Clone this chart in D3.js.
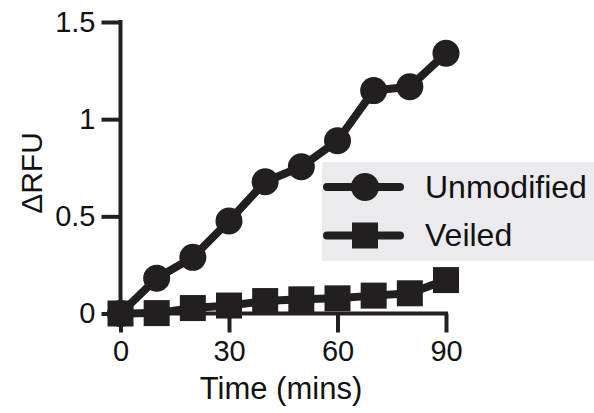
<!DOCTYPE html>
<html>
<head>
<meta charset="utf-8">
<script src="https://cdn.jsdelivr.net/npm/d3@7"></script>
<style>
  html, body { margin: 0; padding: 0; background: #fff; }
  svg { display: block; font-family: "Liberation Sans", Arial, sans-serif; }
</style>
</head>
<body>
<svg id="chart" width="594" height="413"></svg>
<script>
// Data
const times = [0, 10, 20, 30, 40, 50, 60, 70, 80, 90];
const unmodified = [0, 0.181, 0.289, 0.476, 0.678, 0.755, 0.889, 1.147, 1.167, 1.339];
const veiled = [0, 0.002, 0.028, 0.041, 0.064, 0.073, 0.078, 0.092, 0.104, 0.172];
const xTicks = [0, 30, 60, 90];
const yTicks = [0, 0.5, 1, 1.5];
const yTickLabels = ["0", "0.5", "1", "1.5"];
const seriesNames = ["Unmodified", "Veiled"];

const ink = "#231f20";
const svg = d3.select("#chart");

const x = d3.scaleLinear().domain([0, 90]).range([120.5, 446]);
const y = d3.scaleLinear().domain([0, 1.5]).range([313.5, 22]);

// Axes
const xAxis = d3.axisBottom(x).tickValues(xTicks).tickSize(19).tickPadding(8).tickSizeOuter(0);
const yAxis = d3.axisLeft(y).tickValues(yTicks).tickSize(19).tickPadding(6).tickSizeOuter(0)
  .tickFormat((d, i) => yTickLabels[i]);

const gx = svg.append("g").attr("transform", `translate(0,${y(0)})`).call(xAxis);
const gy = svg.append("g").attr("transform", `translate(${x(0)},0)`).call(yAxis);

[gx, gy].forEach(g => {
  g.select(".domain").attr("stroke", ink).attr("stroke-width", 4);
  g.selectAll(".tick line").attr("stroke", ink).attr("stroke-width", 4);
  g.selectAll(".tick text").attr("fill", "#111").attr("font-size", 29)
    .attr("font-family", "'Liberation Sans', Arial, sans-serif");
});
gx.select(".domain").attr("d", `M${x(0) - 2},0H${x(90) + 2}`);
gy.select(".domain").attr("d", `M0,${y(1.5) - 2}V${y(0) + 2}`);
gx.selectAll(".tick text").attr("dy", "0.71em");

// Axis titles
svg.append("text")
  .attr("x", 281).attr("y", 399)
  .attr("text-anchor", "middle")
  .attr("font-size", 31).attr("fill", "#111")
  .text("Time (mins)");

svg.append("text")
  .attr("transform", `translate(42,173) rotate(-90)`)
  .attr("text-anchor", "middle")
  .attr("font-size", 30).attr("fill", "#111")
  .text("ΔRFU");

// Lines
const line = d3.line().x((d, i) => x(times[i])).y(d => y(d));

svg.append("path").datum(veiled)
  .attr("d", line).attr("fill", "none").attr("stroke", ink)
  .attr("stroke-width", 8).attr("stroke-linejoin", "round");
svg.append("path").datum(unmodified)
  .attr("d", line).attr("fill", "none").attr("stroke", ink)
  .attr("stroke-width", 8).attr("stroke-linejoin", "round");

const sq = 26;
svg.append("g").selectAll("rect").data(veiled).join("rect")
  .attr("x", (d, i) => x(times[i]) - sq / 2)
  .attr("y", d => y(d) - sq / 2)
  .attr("width", sq).attr("height", sq)
  .attr("fill", ink);

svg.append("g").selectAll("circle").data(unmodified).join("circle")
  .attr("cx", (d, i) => x(times[i]))
  .attr("cy", d => y(d))
  .attr("r", 13.5)
  .attr("fill", ink);

// Legend
const lg = svg.append("g");
lg.append("rect").attr("x", 322).attr("y", 162).attr("width", 280).attr("height", 99)
  .attr("fill", "#ebebef");

const rows = [{ name: seriesNames[0], cy: 187, bl: 198 }, { name: seriesNames[1], cy: 235.5, bl: 245.5 }];
rows.forEach((r, i) => {
  lg.append("line").attr("x1", 327).attr("x2", 400).attr("y1", r.cy).attr("y2", r.cy)
    .attr("stroke", ink).attr("stroke-width", 8).attr("stroke-linecap", "round");
  if (i === 0) {
    lg.append("circle").attr("cx", 365).attr("cy", r.cy).attr("r", 14).attr("fill", ink);
  } else {
    lg.append("rect").attr("x", 365 - 13).attr("y", r.cy - 13).attr("width", 26).attr("height", 26).attr("fill", ink);
  }
  lg.append("text").attr("x", 425).attr("y", r.bl).attr("font-size", 32).attr("fill", "#111").text(r.name);
});
</script>
</body>
</html>
